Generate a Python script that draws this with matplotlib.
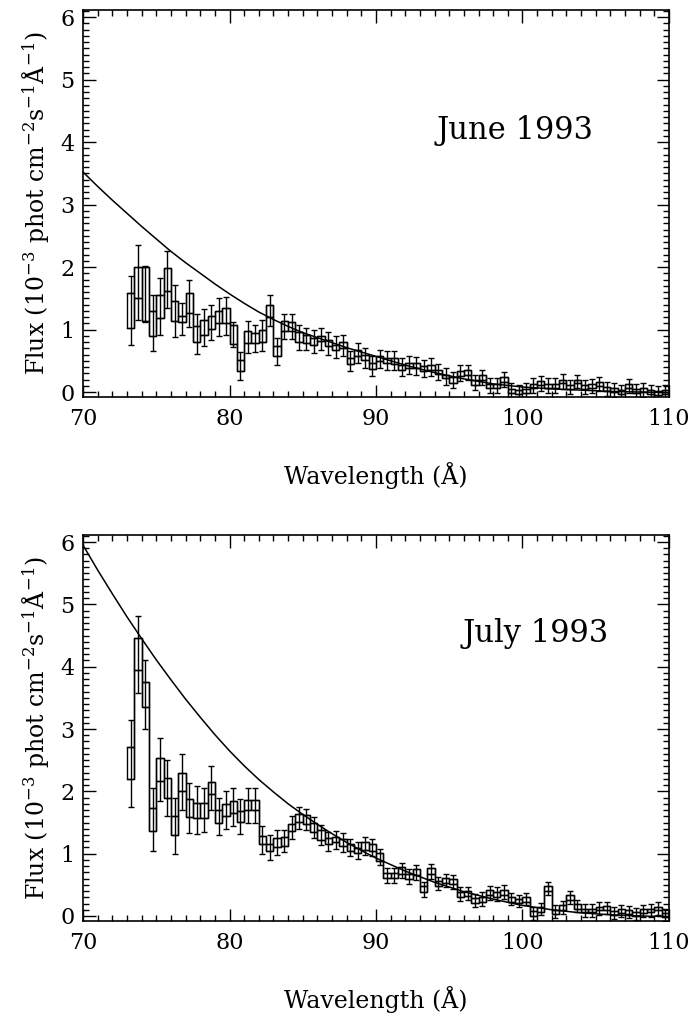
import numpy as np
import matplotlib
matplotlib.use("Agg")
import matplotlib.pyplot as plt
from matplotlib.patches import Rectangle
from matplotlib.ticker import MultipleLocator

# ---------------- data ----------------
bin_start = 73.0
bin_width = 0.5

june_flux = [1.30, 1.75, 1.57, 1.10, 1.37, 1.80, 1.30, 1.17, 1.42, 0.93,
             1.03, 1.11, 1.20, 1.22, 0.92, 0.42, 0.88, 0.86, 0.90, 1.30,
             0.65, 1.05, 1.05, 0.88, 0.85, 0.81, 0.85, 0.78, 0.72, 0.75,
             0.50, 0.63, 0.55, 0.42, 0.53, 0.50, 0.50, 0.40, 0.43, 0.42,
             0.38, 0.40, 0.32, 0.25, 0.19, 0.30, 0.31, 0.15, 0.23, 0.10,
             0.10, 0.20, 0.02, 0.00, 0.02, 0.10, 0.14, 0.10, 0.10, 0.17,
             0.08, 0.17, 0.08, 0.10, 0.13, 0.05, 0.03, 0.00, 0.10, 0.02,
             0.03, 0.00, -0.02, 0.00]
june_box = [0.28, 0.25, 0.43, 0.20, 0.19, 0.18, 0.16, 0.05, 0.16, 0.13,
            0.12, 0.10, 0.10, 0.12, 0.15, 0.09, 0.10, 0.08, 0.10, 0.10,
            0.08, 0.08, 0.07, 0.08, 0.07, 0.06, 0.04, 0.05, 0.04, 0.05,
            0.05, 0.05, 0.04, 0.05, 0.04, 0.04, 0.05, 0.04, 0.04, 0.04,
            0.04, 0.04, 0.03, 0.03, 0.05, 0.04, 0.04, 0.04, 0.04, 0.03,
            0.03, 0.04, 0.03, 0.03, 0.03, 0.03, 0.03, 0.03, 0.03, 0.03,
            0.03, 0.03, 0.03, 0.03, 0.03, 0.03, 0.03, 0.03, 0.03, 0.03,
            0.03, 0.03, 0.03, 0.03]
june_err = [0.55, 0.60, 0.45, 0.45, 0.45, 0.45, 0.42, 0.25, 0.38, 0.32,
            0.30, 0.28, 0.30, 0.30, 0.20, 0.22, 0.25, 0.22, 0.25, 0.25,
            0.22, 0.20, 0.20, 0.20, 0.18, 0.18, 0.18, 0.18, 0.17, 0.17,
            0.16, 0.16, 0.16, 0.16, 0.15, 0.15, 0.15, 0.15, 0.14, 0.14,
            0.14, 0.14, 0.13, 0.13, 0.13, 0.13, 0.12, 0.12, 0.12, 0.12,
            0.12, 0.12, 0.12, 0.12, 0.12, 0.12, 0.12, 0.12, 0.12, 0.12,
            0.11, 0.11, 0.11, 0.11, 0.11, 0.11, 0.11, 0.11, 0.11, 0.11,
            0.11, 0.11, 0.11, 0.11]

july_flux = [2.45, 4.20, 3.55, 1.55, 2.35, 2.05, 1.45, 2.15, 1.73, 1.70,
             1.70, 2.05, 1.60, 1.70, 1.75, 1.60, 1.78, 1.78, 1.22, 1.10,
             1.18, 1.20, 1.42, 1.57, 1.55, 1.42, 1.30, 1.20, 1.22, 1.18,
             1.10, 1.05, 1.12, 1.10, 0.95, 0.65, 0.65, 0.73, 0.63, 0.70,
             0.43, 0.72, 0.52, 0.57, 0.55, 0.35, 0.36, 0.25, 0.27, 0.37,
             0.35, 0.38, 0.27, 0.24, 0.27, 0.04, 0.11, 0.44, 0.07, 0.14,
             0.30, 0.16, 0.09, 0.09, 0.12, 0.13, 0.05, 0.08, 0.06, 0.03,
             0.08, 0.09, 0.12, 0.02]
july_box = [0.26, 0.26, 0.20, 0.19, 0.18, 0.16, 0.15, 0.15, 0.14, 0.12,
            0.12, 0.10, 0.10, 0.09, 0.09, 0.09, 0.08, 0.08, 0.07, 0.06,
            0.07, 0.07, 0.06, 0.06, 0.07, 0.08, 0.08, 0.05, 0.04, 0.06,
            0.05, 0.04, 0.06, 0.05, 0.06, 0.04, 0.04, 0.05, 0.04, 0.05,
            0.05, 0.05, 0.04, 0.04, 0.04, 0.04, 0.04, 0.04, 0.04, 0.04,
            0.04, 0.04, 0.04, 0.03, 0.04, 0.04, 0.04, 0.04, 0.03, 0.04,
            0.04, 0.04, 0.03, 0.03, 0.03, 0.03, 0.03, 0.03, 0.03, 0.03,
            0.03, 0.03, 0.03, 0.03]
july_err = [0.70, 0.62, 0.55, 0.50, 0.50, 0.45, 0.45, 0.45, 0.40, 0.38,
            0.36, 0.35, 0.30, 0.30, 0.30, 0.28, 0.28, 0.28, 0.22, 0.20,
            0.20, 0.18, 0.18, 0.18, 0.17, 0.17, 0.16, 0.15, 0.15, 0.15,
            0.14, 0.14, 0.14, 0.13, 0.13, 0.12, 0.12, 0.12, 0.12, 0.12,
            0.12, 0.12, 0.11, 0.11, 0.11, 0.11, 0.11, 0.11, 0.11, 0.11,
            0.11, 0.11, 0.10, 0.10, 0.10, 0.10, 0.10, 0.10, 0.10, 0.10,
            0.10, 0.10, 0.10, 0.10, 0.10, 0.10, 0.10, 0.10, 0.10, 0.10,
            0.10, 0.10, 0.10, 0.10]

model_wave = [70, 71, 72, 73, 74, 75, 76, 77, 78, 79, 80, 81, 82, 83, 84,
              85, 86, 87, 88, 89, 90, 92, 94, 96, 98, 100, 102, 104, 106,
              108, 110]
june_model = [3.52, 3.29, 3.07, 2.86, 2.65, 2.45, 2.25, 2.07, 1.90, 1.73,
              1.57, 1.42, 1.28, 1.16, 1.05, 0.95, 0.87, 0.79, 0.71, 0.64,
              0.57, 0.43, 0.31, 0.21, 0.13, 0.08, 0.05, 0.03, 0.01, 0.00,
              -0.01]
july_model = [5.95, 5.55, 5.17, 4.80, 4.45, 4.11, 3.79, 3.48, 3.19, 2.91,
              2.65, 2.41, 2.19, 1.99, 1.80, 1.63, 1.47, 1.32, 1.18, 1.05,
              0.93, 0.72, 0.54, 0.39, 0.27, 0.17, 0.10, 0.05, 0.02, 0.00,
              -0.01]

panel_titles = ["June 1993", "July 1993"]
x_ticks = [70, 80, 90, 100, 110]
y_ticks = [0, 1, 2, 3, 4, 5, 6]

# ---------------- style ----------------
plt.rcParams['font.family'] = ['DejaVu Serif']
plt.rcParams['mathtext.fontset'] = 'dejavuserif'

fig = plt.figure(figsize=(6.93, 10.18), dpi=100)
ax1 = fig.add_axes([0.1198, 0.610, 0.8455, 0.380])
ax2 = fig.add_axes([0.1198, 0.0953, 0.8455, 0.379])

LW = 1.0


def draw_panel(ax, flux, box, err, model, title, tpos):
    flux = np.asarray(flux)
    box = np.asarray(box)
    err = np.asarray(err)
    n = len(flux)
    centers = bin_start + bin_width * (np.arange(n) + 0.5)
    lefts = centers - bin_width / 2
    edges = np.append(lefts, lefts[-1] + bin_width)
    top = flux + box
    bot = flux - box
    for l, b, h in zip(lefts, bot, 2 * box):
        ax.add_patch(Rectangle((l, b), bin_width, h, fill=False,
                               edgecolor='k', lw=LW))
    ax.step(edges, np.append(top, top[-1]), where='post', color='k', lw=LW)
    ax.step(edges, np.append(bot, bot[-1]), where='post', color='k', lw=LW)
    ax.errorbar(centers, flux, yerr=err, fmt='none', ecolor='k',
                elinewidth=LW, capsize=2.5, capthick=LW)
    ax.plot(model_wave, model, color='k', lw=1.1)

    ax.set_xlim(70, 110)
    ax.set_ylim(-0.08, 6.11)
    ax.set_xticks(x_ticks)
    ax.set_yticks(y_ticks)
    ax.xaxis.set_minor_locator(MultipleLocator(1))
    ax.yaxis.set_minor_locator(MultipleLocator(0.1))
    ax.tick_params(which='both', direction='in', top=True, right=True,
                   width=1.0, labelsize=16)
    ax.tick_params(which='major', length=9)
    ax.tick_params(which='minor', length=4.5)
    ax.tick_params(axis='x', which='major', pad=8)
    ax.tick_params(axis='y', which='major', pad=6)
    for s in ax.spines.values():
        s.set_linewidth(1.2)
    ax.set_xlabel('Wavelength (Å)', fontsize=17, labelpad=23)
    ax.set_ylabel(r'Flux (10$^{-3}$ phot cm$^{-2}$s$^{-1}$Å$^{-1}$)',
                  fontsize=17, labelpad=6)
    ax.text(tpos[0], tpos[1], title, transform=ax.transAxes,
            ha='center', va='center', fontsize=22)


draw_panel(ax1, june_flux, june_box, june_err, june_model,
           panel_titles[0], (0.737, 0.69))
draw_panel(ax2, july_flux, july_box, july_err, july_model,
           panel_titles[1], (0.773, 0.746))

fig.savefig('out.png', dpi=100)
